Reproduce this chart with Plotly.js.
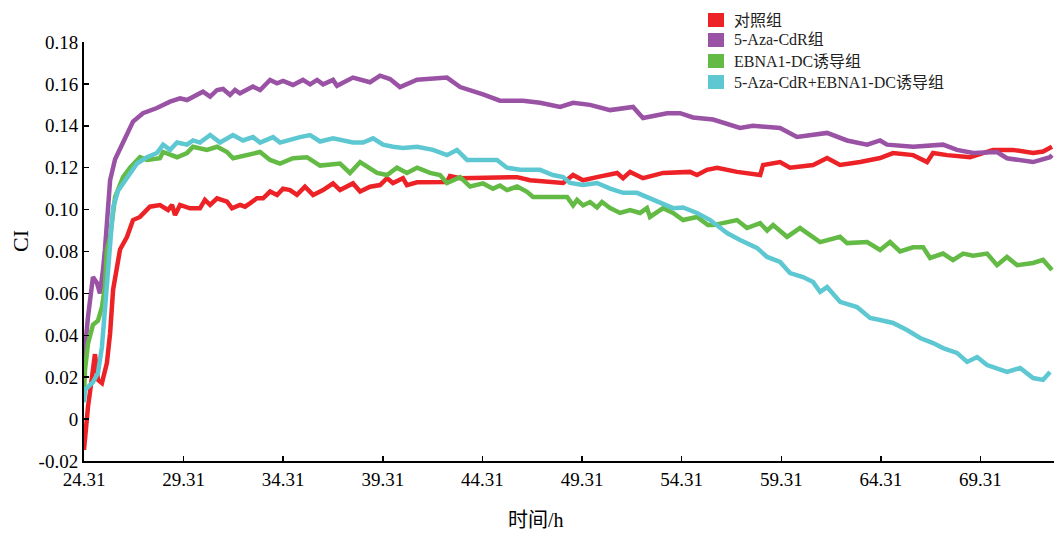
<!DOCTYPE html>
<html>
<head>
<meta charset="utf-8">
<script src="https://cdn.plot.ly/plotly-3.0.1.min.js"></script>
<style>html,body{margin:0;padding:0;background:#fff;}#chart{width:1054px;height:533px;}</style>
</head>
<body>
<div id="chart"></div>
<script>
const seriesNames = ["对照组", "5-Aza-CdR组", "EBNA1-DC诱导组", "5-Aza-CdR+EBNA1-DC诱导组"];
const seriesColors = ["#ec2227", "#9a52a5", "#63bb45", "#5ec8d2"];
const xTitle = "时间/h";
const yTitle = "CI";

const xTickVals = [24.31, 29.31, 34.31, 39.31, 44.31, 49.31, 54.31, 59.31, 64.31, 69.31];
const xTickText = ["24.31", "29.31", "34.31", "39.31", "44.31", "49.31", "54.31", "59.31", "64.31", "69.31"];
const yTickVals = [-0.02, 0, 0.02, 0.04, 0.06, 0.08, 0.10, 0.12, 0.14, 0.16, 0.18];
const yTickText = ["-0.02", "0", "0.02", "0.04", "0.06", "0.08", "0.10", "0.12", "0.14", "0.16", "0.18"];

// 对照组 (red)
const controlX = [24.31, 24.36, 24.51, 24.71, 24.86, 25.01, 25.21, 25.46, 25.62, 25.77, 25.97, 26.12, 26.47, 26.77, 27.12, 27.62, 28.12, 28.53, 28.73, 28.88, 29.13, 29.63, 30.13, 30.38, 30.64, 30.99, 31.49, 31.74, 32.14, 32.39, 32.64, 32.99, 33.30, 33.65, 34.00, 34.30, 34.65, 35.00, 35.40, 35.81, 36.31, 36.81, 37.16, 37.81, 38.17, 38.67, 39.17, 39.52, 39.82, 40.32, 40.52, 41.03, 42.53, 42.68, 43.19, 44.34, 46.05, 46.70, 48.36, 48.86, 49.36, 50.06, 51.07, 51.37, 51.72, 52.37, 53.38, 54.73, 55.08, 55.58, 56.09, 57.09, 58.25, 58.40, 59.25, 59.75, 60.91, 61.61, 62.26, 63.27, 64.27, 64.92, 65.93, 66.63, 66.93, 67.63, 68.79, 69.94, 70.95, 71.95, 72.45, 72.90];
const controlY = [-0.0147, -0.0085, 0.0058, 0.020, 0.031, 0.0187, 0.0172, 0.0268, 0.041, 0.0617, 0.0745, 0.081, 0.087, 0.095, 0.0965, 0.1014, 0.1022, 0.0998, 0.1022, 0.0974, 0.1022, 0.1006, 0.1006, 0.1046, 0.1022, 0.1054, 0.1038, 0.1006, 0.1022, 0.1014, 0.103, 0.1054, 0.1054, 0.1086, 0.107, 0.110, 0.1093, 0.107, 0.1109, 0.107, 0.1093, 0.1125, 0.1093, 0.1125, 0.1086, 0.1109, 0.1117, 0.115, 0.1127, 0.115, 0.1117, 0.113, 0.1132, 0.116, 0.115, 0.115, 0.1155, 0.114, 0.1127, 0.1165, 0.114, 0.1155, 0.1175, 0.115, 0.118, 0.115, 0.1175, 0.118, 0.1165, 0.119, 0.12, 0.118, 0.1165, 0.1213, 0.1227, 0.12, 0.1213, 0.1246, 0.1213, 0.1227, 0.1246, 0.127, 0.126, 0.1227, 0.127, 0.126, 0.125, 0.1285, 0.1285, 0.127, 0.1277, 0.130];

// 5-Aza-CdR组 (purple)
const azaX = [24.31, 24.36, 24.51, 24.76, 24.96, 25.11, 25.26, 25.36, 25.62, 25.87, 26.27, 26.77, 27.27, 27.97, 28.63, 29.13, 29.48, 30.28, 30.64, 30.99, 31.29, 31.64, 31.89, 32.14, 32.79, 33.15, 33.65, 34.00, 34.30, 34.80, 35.30, 35.66, 36.01, 36.31, 36.81, 37.01, 37.81, 38.67, 39.17, 39.67, 40.17, 41.03, 42.53, 43.19, 44.34, 45.19, 46.35, 47.20, 48.21, 48.86, 49.71, 50.72, 51.87, 52.37, 53.58, 54.23, 54.88, 55.89, 57.24, 57.89, 59.25, 60.10, 61.61, 62.61, 63.62, 64.27, 64.62, 65.93, 67.43, 68.13, 68.94, 70.14, 70.64, 71.95, 72.80, 72.90];
const azaY = [0.022, 0.033, 0.0487, 0.0678, 0.065, 0.060, 0.071, 0.0807, 0.114, 0.124, 0.132, 0.142, 0.146, 0.1485, 0.1515, 0.1531, 0.1523, 0.1563, 0.1539, 0.1571, 0.1576, 0.1547, 0.1571, 0.1555, 0.1587, 0.1571, 0.1619, 0.1603, 0.1614, 0.1595, 0.1619, 0.1598, 0.1619, 0.1598, 0.1619, 0.1591, 0.163, 0.1608, 0.1639, 0.1623, 0.1585, 0.162, 0.163, 0.1585, 0.155, 0.152, 0.152, 0.151, 0.149, 0.151, 0.150, 0.1475, 0.149, 0.1437, 0.146, 0.146, 0.144, 0.143, 0.139, 0.140, 0.139, 0.1347, 0.1366, 0.133, 0.131, 0.133, 0.131, 0.130, 0.131, 0.1285, 0.127, 0.1275, 0.1245, 0.1227, 0.125, 0.126];

// EBNA1-DC诱导组 (green)
const ebnaX = [24.31, 24.36, 24.51, 24.76, 25.01, 25.21, 25.36, 25.46, 25.62, 25.87, 26.27, 26.62, 27.12, 27.47, 28.12, 28.28, 28.98, 29.48, 29.78, 30.48, 30.99, 31.49, 31.79, 32.49, 33.15, 33.65, 34.15, 34.80, 35.50, 36.16, 37.16, 37.66, 38.17, 39.02, 39.52, 40.02, 40.52, 41.03, 41.68, 42.18, 42.53, 43.19, 43.69, 44.34, 44.84, 45.19, 45.54, 46.05, 46.55, 46.85, 47.70, 48.56, 48.86, 49.06, 49.36, 49.71, 50.06, 50.31, 50.72, 51.22, 51.72, 52.22, 52.57, 52.72, 53.38, 53.88, 54.38, 55.08, 55.63, 55.89, 57.09, 57.59, 58.25, 58.60, 58.90, 59.60, 60.25, 61.26, 62.26, 62.61, 63.62, 64.27, 64.77, 65.27, 65.93, 66.43, 66.78, 67.43, 67.93, 68.44, 68.94, 69.64, 70.14, 70.64, 71.15, 71.95, 72.45, 72.90];
const ebnaY = [0.012, 0.0234, 0.036, 0.045, 0.047, 0.0535, 0.063, 0.0807, 0.087, 0.106, 0.1155, 0.120, 0.125, 0.1237, 0.1245, 0.1275, 0.125, 0.127, 0.130, 0.1285, 0.130, 0.1275, 0.1245, 0.126, 0.1275, 0.1237, 0.122, 0.1245, 0.125, 0.121, 0.122, 0.1175, 0.1227, 0.1175, 0.1165, 0.12, 0.1175, 0.12, 0.1175, 0.1165, 0.1127, 0.1155, 0.111, 0.1125, 0.110, 0.1115, 0.1093, 0.111, 0.1085, 0.106, 0.106, 0.106, 0.102, 0.1046, 0.102, 0.1036, 0.101, 0.1036, 0.1007, 0.0984, 0.0998, 0.0984, 0.1007, 0.0965, 0.1007, 0.0984, 0.095, 0.0965, 0.0926, 0.0926, 0.095, 0.0912, 0.0935, 0.090, 0.0926, 0.087, 0.0912, 0.0845, 0.087, 0.084, 0.0845, 0.0807, 0.0845, 0.080, 0.082, 0.082, 0.0769, 0.079, 0.0759, 0.079, 0.078, 0.079, 0.0735, 0.0774, 0.0735, 0.0745, 0.076, 0.0712];

// 5-Aza-CdR+EBNA1-DC诱导组 (cyan)
const comboX = [24.31, 24.36, 24.76, 25.01, 25.21, 25.36, 25.51, 25.62, 25.77, 26.02, 26.47, 26.97, 27.47, 27.97, 28.28, 28.63, 28.98, 29.48, 29.78, 30.13, 30.64, 31.14, 31.79, 32.29, 32.79, 33.15, 33.80, 34.15, 35.15, 35.66, 36.16, 36.81, 37.81, 38.32, 38.82, 39.32, 39.82, 40.32, 41.03, 41.83, 42.53, 43.03, 43.54, 44.34, 45.04, 45.54, 46.20, 47.20, 47.85, 48.36, 48.71, 49.36, 50.06, 50.72, 51.37, 52.07, 52.72, 53.38, 53.88, 54.38, 55.08, 55.74, 56.59, 57.24, 58.09, 58.60, 59.25, 59.75, 60.40, 60.91, 61.26, 61.61, 62.26, 63.11, 63.77, 64.27, 64.92, 65.62, 66.28, 66.93, 67.43, 68.13, 68.64, 69.14, 69.64, 70.64, 71.30, 71.95, 72.45, 72.80];
const comboY = [0.008, 0.0139, 0.0177, 0.022, 0.0344, 0.052, 0.0726, 0.0807, 0.101, 0.109, 0.1155, 0.122, 0.125, 0.127, 0.131, 0.1285, 0.132, 0.131, 0.133, 0.132, 0.1356, 0.132, 0.1356, 0.133, 0.1346, 0.132, 0.1346, 0.132, 0.1346, 0.1356, 0.1325, 0.134, 0.132, 0.132, 0.134, 0.131, 0.130, 0.1294, 0.130, 0.1285, 0.126, 0.1285, 0.1237, 0.1237, 0.1237, 0.120, 0.119, 0.119, 0.1165, 0.1155, 0.1127, 0.1117, 0.1127, 0.110, 0.108, 0.108, 0.1055, 0.103, 0.1007, 0.101, 0.0984, 0.095, 0.0888, 0.0855, 0.0817, 0.0774, 0.075, 0.0697, 0.0678, 0.0654, 0.0607, 0.063, 0.056, 0.0535, 0.0483, 0.0473, 0.0459, 0.0425, 0.0387, 0.0363, 0.0339, 0.0316, 0.0273, 0.0296, 0.0258, 0.0225, 0.0244, 0.0196, 0.0187, 0.0225];

const xs = [controlX, azaX, ebnaX, comboX];
const ys = [controlY, azaY, ebnaY, comboY];

const traces = [];
for (let i = 0; i < 4; i++) {
  traces.push({
    type: "scatter", mode: "lines", x: xs[i], y: ys[i], name: seriesNames[i],
    line: {color: seriesColors[i], width: 4.5},
    showlegend: false, hoverinfo: "skip"
  });
}

const fontFam = "'Liberation Serif', 'Times New Roman', 'Noto Sans CJK SC', serif";

// manual legend and axis titles, positioned in paper coordinates
const plotL = 84, plotW = 970, plotB = 461, plotH = 419;
const px2x = p => (p - plotL) / plotW;
const py2y = p => (plotB - p) / plotH;
const legendRowsY = [20, 40, 61, 82];
const shapes = [], annotations = [];
for (let i = 0; i < 4; i++) {
  const cy = legendRowsY[i];
  shapes.push({
    type: "rect", xref: "paper", yref: "paper",
    x0: px2x(708), x1: px2x(724), y0: py2y(cy + 7), y1: py2y(cy - 7),
    fillcolor: seriesColors[i], line: {width: 0}
  });
  annotations.push({
    xref: "paper", yref: "paper", x: px2x(732), y: py2y(cy),
    xanchor: "left", yanchor: "middle", showarrow: false,
    text: seriesNames[i], font: {family: fontFam, size: 16, color: "#222"}
  });
}
annotations.push({
  xref: "paper", yref: "paper", x: px2x(536), y: py2y(520),
  xanchor: "center", yanchor: "middle", showarrow: false,
  text: xTitle, font: {family: fontFam, size: 20, color: "#000"}
});
annotations.push({
  xref: "paper", yref: "paper", x: px2x(20), y: py2y(241),
  xanchor: "center", yanchor: "middle", showarrow: false, textangle: -90,
  text: yTitle, font: {family: fontFam, size: 22, color: "#000"}
});

const layout = {
  width: 1054, height: 533,
  margin: {l: 84, r: 0, t: 42, b: 72},
  paper_bgcolor: "#ffffff", plot_bgcolor: "#ffffff",
  font: {family: fontFam, color: "#000", size: 19},
  showlegend: false,
  shapes: shapes, annotations: annotations,
  xaxis: {
    range: [24.31, 73.0], showgrid: false, zeroline: false,
    showline: true, linecolor: "#000", linewidth: 2,
    ticks: "inside", ticklen: 5, tickwidth: 1.5, tickcolor: "#000",
    tickvals: xTickVals, ticktext: xTickText,
    tickfont: {family: fontFam, size: 19, color: "#000"}
  },
  yaxis: {
    range: [-0.02, 0.18], showgrid: false, zeroline: false,
    showline: true, linecolor: "#000", linewidth: 2,
    ticks: "inside", ticklen: 5, tickwidth: 1.5, tickcolor: "#000",
    tickvals: yTickVals, ticktext: yTickText,
    tickfont: {family: fontFam, size: 19, color: "#000"}
  }
};

Plotly.newPlot("chart", traces, layout, {staticPlot: true, displayModeBar: false});
</script>
</body>
</html>
